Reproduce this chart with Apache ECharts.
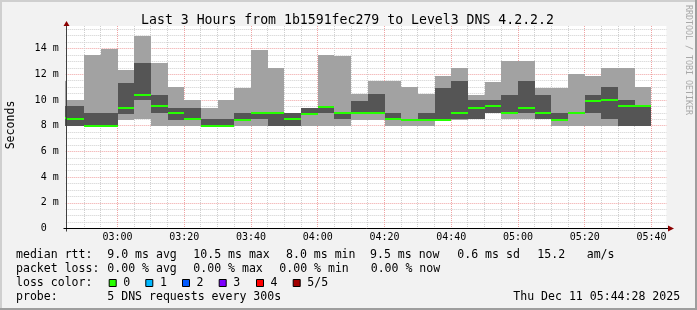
<!DOCTYPE html>
<html><head><meta charset="utf-8">
<script src="https://cdn.jsdelivr.net/npm/echarts@6/dist/echarts.min.js"></script>
<style>
html,body{margin:0;padding:0;background:#f2f2f2;}
#c{width:697px;height:310px;}
</style></head><body><div id="c"></div>
<script>
// 5-minute slots (start time of each smoke column)
const slots = ["02:40","02:45","02:50","02:55","03:00","03:05","03:10","03:15","03:20","03:25","03:30","03:35",
  "03:40","03:45","03:50","03:55","04:00","04:05","04:10","04:15","04:20","04:25","04:30","04:35",
  "04:40","04:45","04:50","04:55","05:00","05:05","05:10","05:15","05:20","05:25","05:30","05:35"];
// sorted ping rtts (ms) per slot: fastest, 2nd, median, 4th, slowest
const minRtt    = [8.0,8.0,8.0,8.0,8.4,8.5,8.0,8.0,8.0,8.0,8.0,8.0, 8.0,8.0,8.0,8.0,8.0,8.0,8.4,8.4,8.0,8.0,8.0,8.4, 8.45,8.5,9.0,8.5,8.5,8.5,8.0,8.0,8.0,8.0,8.0,8.0];
const lowRtt    = [8.0,8.0,8.0,8.0,8.9,10.0,9.0,8.4,8.5,8.0,8.0,8.4, 8.5,8.0,8.0,8.9,9.0,8.5,9.0,9.0,8.5,8.45,8.45,8.4, 8.5,8.5,9.0,9.0,9.0,8.5,8.45,9.0,9.0,8.5,8.0,8.0];
const medianRtt = [8.6,8.5,8.0,8.0,9.4,10.4,9.5,9.0,8.5,8.0,8.0,8.45, 9.0,9.0,8.5,8.9,9.45,9.0,9.0,9.0,8.5,8.45,8.45,8.45, 9.0,9.4,9.5,9.0,9.4,9.0,8.45,9.0,9.9,10.0,9.5,9.5];
const highRtt   = [9.5,9.5,9.0,9.0,11.3,12.9,10.4,9.4,9.4,8.5,8.5,9.0, 9.0,9.0,9.0,9.4,9.5,9.0,9.9,10.45,9.0,8.45,9.0,10.9, 11.5,10.0,10.0,10.4,11.5,10.4,9.0,9.0,10.4,11.0,10.0,9.5];
const maxRtt    = [11.5,10.0,13.5,14.0,12.3,15.0,12.9,11.0,10.0,9.4,10.0,10.9, 13.9,12.5,9.0,9.4,13.5,13.4,10.5,11.5,11.5,11.0,10.5,11.9, 12.5,10.4,11.4,13.0,13.0,10.9,10.9,12.0,11.9,12.5,12.5,11.0];
const xTickLabels = ["03:00","03:20","03:40","04:00","04:20","04:40","05:00","05:20","05:40"];
const yTickLabels = ["0","2 m","4 m","6 m","8 m","10 m","12 m","14 m"];
const windowStart = "02:44:28", windowEnd = "05:44:28";
const titleText = "Last 3 Hours from 1b1591fec279 to Level3 DNS 4.2.2.2";
const lossColors = ["#26ff00","#00b8ff","#0059ff","#7e00ff","#ff0000","#a10000"];
const lossLabels = ["0","1","2","3","4","5/5"];

const toMin = s => { const p = s.split(":").map(Number); return p[0]*60 + p[1] + (p[2]||0)/60; };
const fmt = m => { const h = Math.floor(m/60), mm = Math.round(m%60); return String(h).padStart(2,"0")+":"+String(mm).padStart(2,"0"); };
const STEP = 5;
const rows = slots.map((s,i)=>[toMin(s), minRtt[i], lowRtt[i], medianRtt[i], highRtt[i], maxRtt[i]]);
const gridTimes = slots.slice(2).concat(["05:40"]).map(s=>[toMin(s), toMin(s)%20===0 ? 1 : 0]);

const MONO = '"DejaVu Sans Mono", monospace';
const GRID_MINOR = '#cfcfcf';
const GRID_MAJOR = '#f0a4a4';

const chart = echarts.init(document.getElementById('c'), null, {renderer:'canvas'});
const option = {
  backgroundColor: '#f2f2f2',
  animation: false,
  grid: { left: 65.7, width: 600.7, top: 26, height: 202.5, backgroundColor:'#ffffff', show:true, borderWidth:0 },
  xAxis: {
    type: 'value', min: toMin(windowStart), max: toMin(windowEnd), z: 5,
    axisLine: { show: false },
    axisTick: { show: false },
    splitLine: { show: false },
    axisLabel: { customValues: xTickLabels.map(toMin), formatter: v => fmt(v), fontFamily: 'DejaVu Sans Mono', fontSize: 10, color: '#000', margin: 4 }
  },
  yAxis: {
    type: 'value', min: 0, max: 15.75, interval: 0.5, z: 0,
    axisLine: { show: false },
    axisTick: { show: false },
    splitLine: { show: true, showMaxLine: false, lineStyle: { color: [GRID_MAJOR, GRID_MINOR, GRID_MINOR, GRID_MINOR], width: 1, type: [1,1] } },
    axisLabel: { fontFamily: 'DejaVu Sans Mono', fontSize: 10, color: '#000', margin: 7,
      formatter: v => { if (v % 2 !== 0) return ''; const k = v/2; return k === 0 ? yTickLabels[0] + '  ' : (yTickLabels[k] || ''); } }
  },
  series: [
    { type: 'custom', z: 1, silent: true, clip: false, data: gridTimes,
      renderItem(params, api) {
        const cs = params.coordSys;
        const x = Math.round(api.coord([api.value(0), 0])[0] - 0.5) + 0.5;
        return { type: 'line', shape: { x1: x, y1: cs.y, x2: x, y2: cs.y + cs.height },
          style: { stroke: api.value(1) ? GRID_MAJOR : GRID_MINOR, lineWidth: 1, lineDash: [1,1] } };
      } },
    { type: 'custom', z: 2, silent: true, clip: true, data: rows, encode: { x: 0, y: [1,5] },
      renderItem(params, api) {
        const t = api.value(0);
        const xa = Math.round(api.coord([t,0])[0]), xb = Math.round(api.coord([t+STEP,0])[0]);
        const Y = v => Math.round(api.coord([t, v])[1]);
        const rect = (v1, v2, fill) => { const y1 = Y(v1), y2 = Y(v2); return { type:'rect', shape:{x:xa, y:Math.min(y1,y2), width:xb-xa, height:Math.abs(y2-y1)}, style:{fill} }; };
        const ym = Math.round(api.coord([t, api.value(3)])[1]);
        return { type: 'group', children: [
          rect(api.value(5), api.value(1), '#a2a2a2'),
          rect(api.value(4), api.value(2), '#555555'),
          { type:'rect', shape:{x:xa, y:ym-1, width:xb-xa, height:2}, style:{fill: lossColors[0]} }
        ] };
      } }
  ]
};
chart.setOption(option);

// decorations: frame, axis lines, arrows, texts
const tl = chart.convertToPixel({gridIndex:0}, [toMin(windowStart), 15.75]);
const br = chart.convertToPixel({gridIndex:0}, [toMin(windowEnd), 0]);
const el = [];
el.push({type:'rect', shape:{x:0,y:0,width:697,height:2}, style:{fill:'#cfcfcf'}, z:100});
el.push({type:'rect', shape:{x:0,y:0,width:2,height:310}, style:{fill:'#cfcfcf'}, z:100});
el.push({type:'rect', shape:{x:0,y:308,width:697,height:2}, style:{fill:'#9e9e9e'}, z:100});
el.push({type:'rect', shape:{x:695,y:0,width:2,height:310}, style:{fill:'#9e9e9e'}, z:100});
const yx = Math.round(tl[0]) + 0.5;
const xy = Math.round(br[1]) - 0.5;
// y axis line + arrow
el.push({type:'line', shape:{x1:yx, y1:tl[1], x2:yx, y2:xy+3}, style:{stroke:'#404040', lineWidth:1}, z:50});
el.push({type:'polygon', shape:{points:[[yx-3, tl[1]], [yx+3, tl[1]], [yx, tl[1]-5]]}, style:{fill:'#8b0000'}, z:50});
// x axis line + arrow
el.push({type:'line', shape:{x1:yx-3, y1:xy, x2:669, y2:xy}, style:{stroke:'#000', lineWidth:1}, z:50});
el.push({type:'polygon', shape:{points:[[668, xy-3], [668, xy+3], [674, xy]]}, style:{fill:'#8b0000'}, z:50});
const T = (text, x, y, size, align) => ({type:'text', z:60, x:x, y:y,
  style:{text:text, x:0, y:0, font: size+'px '+MONO, fill:'#000', align:align||'left', verticalAlign:'middle', textAlign:align||'left', textVerticalAlign:'middle'}});
el.push(T(titleText, 347.5, 20.3, 13.2, 'center'));
el.push({type:'text', z:60, x:688.5, y:60, rotation:-Math.PI/2,
  style:{text:'RRDTOOL / TOBI OETIKER', x:0, y:0, font:'8.3px '+MONO, fill:'#a8a8a8', align:'center', verticalAlign:'middle', textAlign:'center', textVerticalAlign:'middle'}});
el.push({type:'text', z:60, x:10.5, y:125, rotation:Math.PI/2,
  style:{text:'Seconds', x:0, y:0, font:'11.55px '+MONO, fill:'#000', align:'center', verticalAlign:'middle', textAlign:'center', textVerticalAlign:'middle'}});
const LF = 11.55;
const L1 = 255, L2 = 268.5, L3 = 283, L4 = 296.5;
[["median rtt:",16],["9.0 ms avg",107.3],["10.5 ms max",193.3],["8.0 ms min",286],["9.5 ms now",370],["0.6 ms sd",457.3],["15.2",537.3],["am/s",586.7]]
  .forEach(p=>el.push(T(p[0],p[1],L1,LF)));
[["packet loss:",16],["0.00 % avg",107.3],["0.00 % max",193.3],["0.00 % min",279.3],["0.00 % now",370.7]]
  .forEach(p=>el.push(T(p[0],p[1],L2,LF)));
el.push(T("loss color:",16,L3,LF));
const sqX = [108.7,145.3,182,218.7,256,292.7];
lossLabels.forEach((lab,i)=>{
  el.push({type:'rect', z:60, shape:{x:sqX[i]+0.5, y:279.5, width:7, height:7}, style:{fill:lossColors[i], stroke:'#000', lineWidth:1}});
  el.push(T(lab, sqX[i]+14.6, L3, LF));
});
el.push(T("probe:",16,L4,LF));
el.push(T("5 DNS requests every 300s",107.3,L4,LF));
el.push(T("Thu Dec 11 05:44:28 2025",513.3,L4,LF));
chart.setOption({graphic:{elements:el}});
</script></body></html>
